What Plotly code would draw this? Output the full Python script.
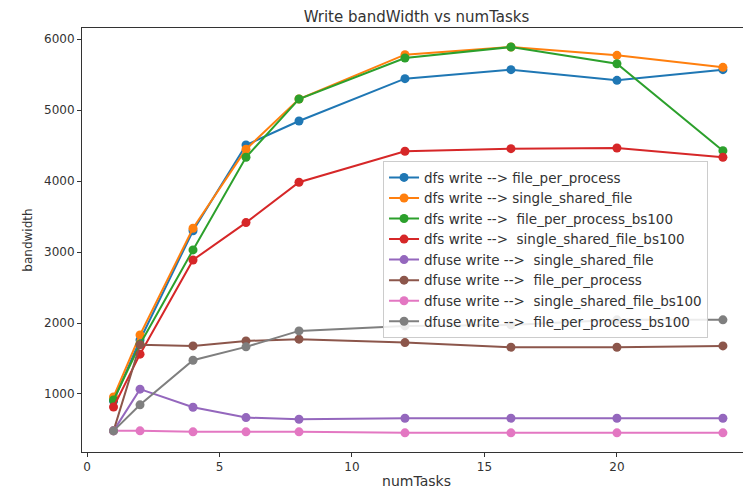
import plotly.graph_objects as go

num_tasks = [1, 2, 4, 6, 8, 12, 16, 20, 24]

dfs_fpp = [900, 1760, 3300, 4507, 4845, 5441, 5568, 5418, 5568]
dfs_ssf = [958, 1832, 3334, 4447, 5155, 5779, 5887, 5770, 5601]
dfs_fpp_bs100 = [915, 1700, 3029, 4334, 5155, 5732, 5887, 5652, 4427]
dfs_ssf_bs100 = [817, 1561, 2888, 3414, 3982, 4419, 4456, 4465, 4334]
dfuse_ssf = [481, 1068, 814, 668, 645, 659, 659, 659, 659]
dfuse_fpp = [481, 1695, 1677, 1748, 1772, 1724, 1659, 1659, 1677]
dfuse_ssf_bs100 = [481, 481, 467, 467, 467, 453, 453, 453, 453]
dfuse_fpp_bs100 = [481, 847, 1476, 1664, 1889, 1959, 1973, 2044, 2044]

NB = "\u00a0"
series = [
    ("dfs write --> file_per_process", dfs_fpp, "#1f77b4"),
    ("dfs write --> single_shared_file", dfs_ssf, "#ff7f0e"),
    ("dfs write -->" + NB + " file_per_process_bs100", dfs_fpp_bs100, "#2ca02c"),
    ("dfs write -->" + NB + " single_shared_file_bs100", dfs_ssf_bs100, "#d62728"),
    ("dfuse write -->" + NB + " single_shared_file", dfuse_ssf, "#9467bd"),
    ("dfuse write -->" + NB + " file_per_process", dfuse_fpp, "#8c564b"),
    ("dfuse write -->" + NB + " single_shared_file_bs100", dfuse_ssf_bs100, "#e377c2"),
    ("dfuse write -->" + NB + " file_per_process_bs100", dfuse_fpp_bs100, "#7f7f7f"),
]

fig = go.Figure()
for name, vals, color in series:
    fig.add_trace(go.Scatter(
        x=num_tasks, y=vals, name=name, mode="lines+markers",
        line=dict(color=color, width=2),
        marker=dict(color=color, size=9),
    ))

axis_common = dict(
    showline=True, linecolor="#333", linewidth=1, mirror=True,
    ticks="outside", ticklen=4, tickcolor="#333", showgrid=False, zeroline=False,
    tickfont=dict(size=12, color="#333"),
)

fig.update_layout(
    width=743, height=484,
    margin=dict(l=74, r=0, t=20, b=40),
    paper_bgcolor="white", plot_bgcolor="white",
    font=dict(family="DejaVu Sans", color="#333"),
    title=dict(text="Write bandWidth vs numTasks", x=0.5, xanchor="center",
               xref="paper", y=0.9814, yref="container", yanchor="middle",
               font=dict(size=15)),
    xaxis=dict(range=[-0.19, 25.06], tickvals=[0, 5, 10, 15, 20, 25],
               title=dict(text="numTasks", font=dict(size=14), standoff=2),
               **axis_common),
    yaxis=dict(range=[183, 6155], tickvals=[1000, 2000, 3000, 4000, 5000, 6000],
               title=dict(text="bandwidth", font=dict(size=12), standoff=8),
               **axis_common),
    legend=dict(x=0.45, y=0.686, xanchor="left", yanchor="top",
                bgcolor="rgba(255,255,255,0.85)", bordercolor="#ccc", borderwidth=1,
                font=dict(size=13.5, color="#333"), tracegroupgap=0),
    showlegend=True,
)

fig.write_html("out.html")
